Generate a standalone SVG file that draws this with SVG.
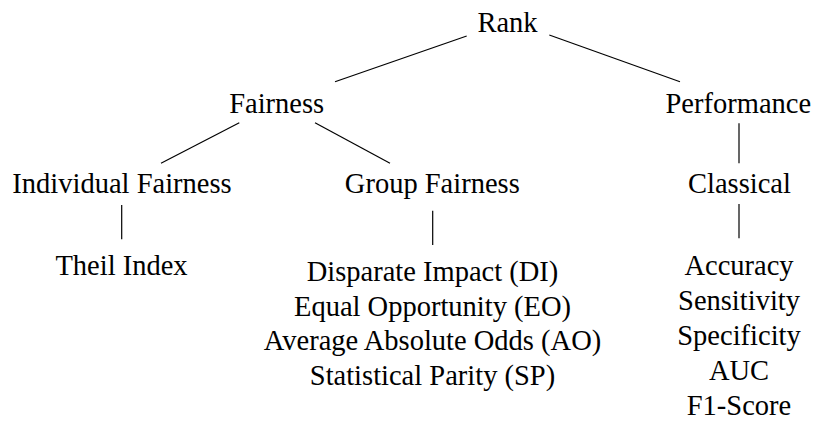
<svg xmlns="http://www.w3.org/2000/svg" width="815" height="421" viewBox="0 0 815 421">
<style>
.t text{font-family:'Liberation Serif',Tinos,'Times New Roman',Times,'DejaVu Serif',serif;font-size:28.5px;fill:#000;text-anchor:middle}
.e line{stroke:#000;stroke-width:1.2;fill:none}
</style>
<rect width="815" height="421" fill="#fff"/>
<g class="e" id="connectors">
<line x1="466.7" y1="36" x2="335" y2="81.7"/>
<line x1="549.3" y1="35" x2="680" y2="81.7"/>
<line x1="239.3" y1="122.7" x2="161" y2="163.3"/>
<line x1="315" y1="122.7" x2="390" y2="163.3"/>
<line x1="121.7" y1="205" x2="121.7" y2="239.3"/>
<line x1="432.7" y1="210.7" x2="432.7" y2="245"/>
<line x1="739" y1="123.3" x2="739" y2="163.3"/>
<line x1="739" y1="204" x2="739" y2="238.3"/>
</g>
<g class="t" font-family="Liberation Serif, serif">
<g id="rank"><text x="507.5" y="31.5">Rank</text></g>
<g id="fairness"><text x="276.7" y="113.3">Fairness</text></g>
<g id="performance"><text x="738.3" y="113.3">Performance</text></g>
<g id="individual"><text x="122" y="193.3">Individual Fairness</text></g>
<g id="group"><text x="432.3" y="193.3">Group Fairness</text></g>
<g id="classical"><text x="739.5" y="193.3">Classical</text></g>
<g id="theil"><text x="121.5" y="275">Theil Index</text></g>
<g id="groupmetrics">
<text x="432.5" y="281">Disparate Impact (DI)</text>
<text x="432.5" y="315.5">Equal Opportunity (EO)</text>
<text x="432.5" y="350">Average Absolute Odds (AO)</text>
<text x="432.5" y="384.5">Statistical Parity (SP)</text>
</g>
<g id="classicalmetrics">
<text x="739" y="275">Accuracy</text>
<text x="739" y="310">Sensitivity</text>
<text x="739" y="345">Specificity</text>
<text x="739" y="380">AUC</text>
<text x="739" y="415">F1-Score</text>
</g>
</g>
</svg>
